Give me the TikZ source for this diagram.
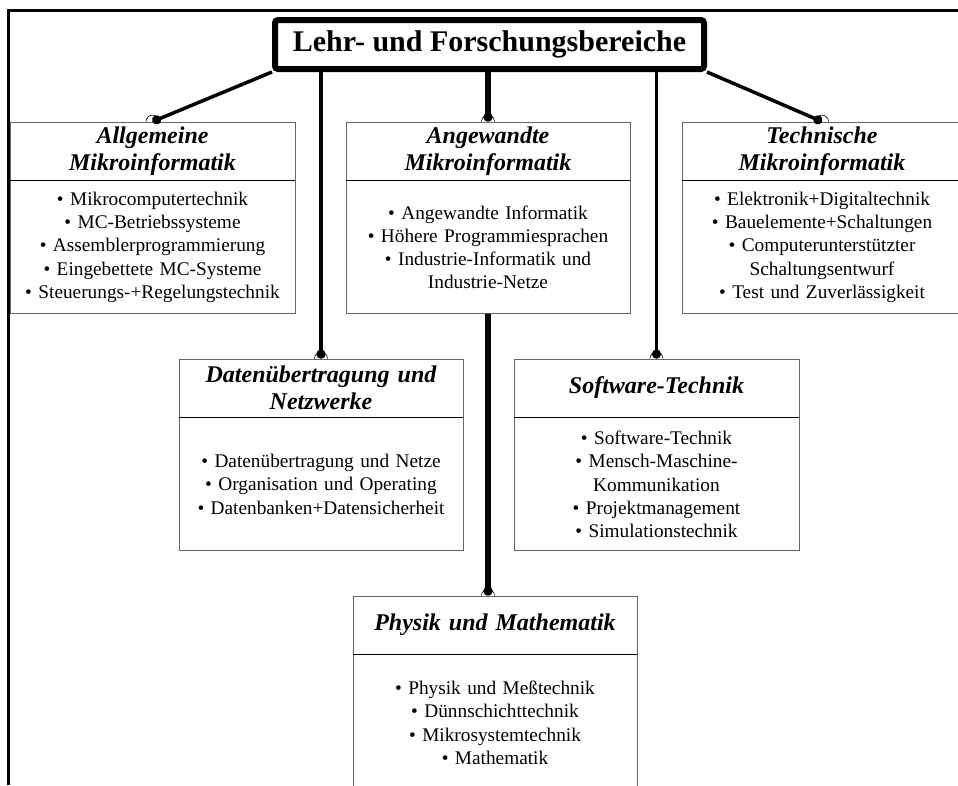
\documentclass[tikz,border=0pt]{standalone}
\usepackage{fontspec}
\setmainfont{Liberation Serif}
\usetikzlibrary{positioning,arrows.meta}

\tikzset{
  fach/.style={draw=black!60, line width=0.8pt, inner sep=0pt, align=center, text width=#1},
  kopf/.style={fach=#1, minimum height=58pt, font=\bfseries\itshape\fontsize{24}{27}\selectfont},
  liste/.style={fach=#1, minimum height=133pt, font=\fontsize{19.3}{23.3}\selectfont},
  verb/.style={line width=3.5pt, -{Circle[length=9pt]}},
}

\begin{document}
\begin{tikzpicture}[x=1pt, y=-1pt]
  \useasboundingbox (0,0) rectangle (958,785);
  % Rahmen
  \draw[line width=3pt] (8.7,785) -- (8.7,10.5) -- (958,10.5);

  \node[draw, line width=6pt, rounded corners=3pt, minimum width=429pt, minimum height=49pt,
        inner sep=0pt, font=\bfseries\fontsize{30}{34}\selectfont] (titel) at (489.5,44.5) {Lehr- und Forschungsbereiche};

  % obere Reihe
  \node[kopf=285pt] (allgK) at (152.5,151) {Allgemeine\\Mikroinformatik};
  \node[liste=285pt, below=0pt of allgK] (allgL) {• Mikrocomputertechnik\\ • MC-Betriebssysteme\\ • Assemblerprogrammierung\\ • Eingebettete MC-Systeme\\ • Steuerungs-+Regelungstechnik};
  \node[kopf=284pt] (angwK) at (488,151) {Angewandte\\Mikroinformatik};
  \node[liste=284pt, below=0pt of angwK] (angwL) {• Angewandte Informatik\\ • Höhere Programmiesprachen\\ • Industrie-Informatik und\\ Industrie-Netze};
  \node[kopf=280pt] (techK) at (822,151) {Technische\\Mikroinformatik};
  \node[liste=280pt, below=0pt of techK] (techL) {• Elektronik+Digitaltechnik\\ • Bauelemente+Schaltungen\\ • Computerunterstützter\\ Schaltungsentwurf\\ • Test und Zuverlässigkeit};

  % mittlere Reihe
  \node[kopf=284pt] (datK) at (321,388) {Datenübertragung und\\Netzwerke};
  \node[liste=284pt, below=0pt of datK] (datL) {• Datenübertragung und Netze\\ • Organisation und Operating\\ • Datenbanken+Datensicherheit};
  \node[kopf=285pt] (softK) at (656.5,388) {Software-Technik};
  \node[liste=285pt, below=0pt of softK] (softL) {• Software-Technik\\ • Mensch-Maschine-\\ Kommunikation\\ • Projektmanagement\\ • Simulationstechnik};

  % untere Reihe
  \node[kopf=284pt] (physK) at (495,625) {Physik und Mathematik};
  \node[liste=284pt, minimum height=136pt, below=0pt of physK] (physL) {• Physik und Meßtechnik\\ • Dünnschichttechnik\\ • Mikrosystemtechnik\\ • Mathematik};
  \coordinate (physE) at (angwL.south |- physK.north);

  \foreach \k in {allgK,angwK,techK,datK,softK,physK}
    \draw[line width=1.2pt] (\k.south west) -- (\k.south east);

  % Verbindungen
  \draw[verb] (titel.south west) -- (allgK.north);
  \draw[verb] (titel.south east) -- (techK.north);
  \draw[verb, line width=6pt] (titel.south -| angwK.north) -- (angwK.north);
  \draw[verb] (titel.south -| datK.north) -- (datK.north);
  \draw[verb] (titel.south -| softK.north) -- (softK.north);
  \draw[verb, line width=6pt] (angwL.south) -- (physE);

  \foreach \p in {allgK.north,angwK.north,techK.north,datK.north,softK.north,physE}
    \draw[line width=0.6pt] ([xshift=-6.5pt]\p) arc (180:0:6.5pt);
\end{tikzpicture}
\end{document}
